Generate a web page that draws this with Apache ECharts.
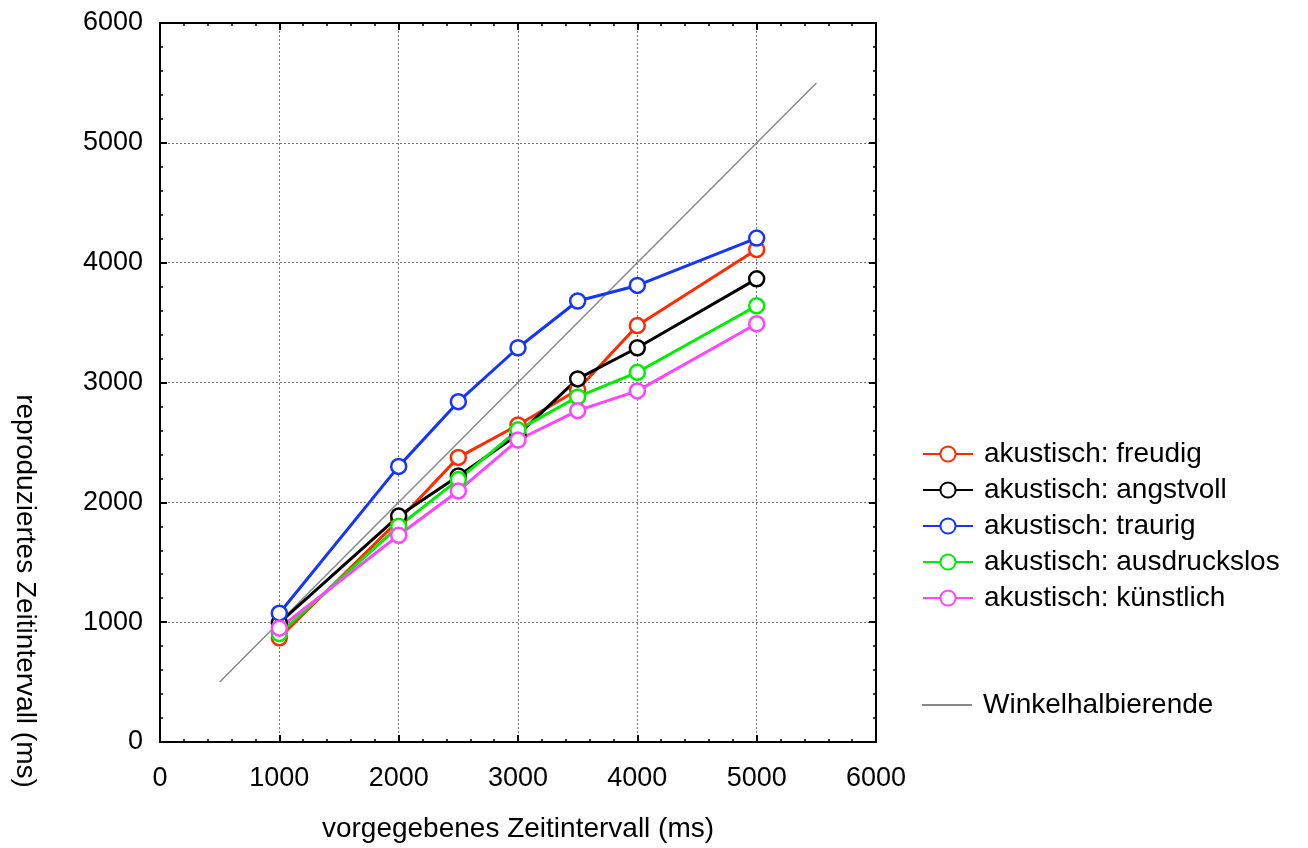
<!DOCTYPE html>
<html>
<head>
<meta charset="utf-8">
<script src="https://cdn.jsdelivr.net/npm/echarts@6/dist/echarts.min.js"></script>
<style>
  html, body { margin: 0; padding: 0; background: #fff; }
  #chart { width: 1308px; height: 848px; }
</style>
</head>
<body>
<div id="chart"></div>
<script>
// Vorgegebene Intervalle (ms)
const intervals = [1000, 2000, 2500, 3000, 3500, 4000, 5000];

// Mittlere reproduzierte Intervalle (ms) je Bedingung
const freudig      = [870, 1850, 2375, 2645, 2940, 3475, 4110];
const angstvoll    = [995, 1885, 2220, 2565, 3030, 3290, 3865];
const traurig      = [1075, 2300, 2840, 3290, 3680, 3810, 4205];
const ausdruckslos = [905, 1800, 2190, 2605, 2880, 3085, 3640];
const kuenstlich   = [950, 1725, 2095, 2520, 2765, 2930, 3490];

// Winkelhalbierende (y = x)
const diagonal = [[500, 500], [5500, 5500]];

const axisTicks = [0, 1000, 2000, 3000, 4000, 5000, 6000];

const seriesDefs = [
  { name: 'akustisch: freudig',      values: freudig,      color: '#ff2a00' },
  { name: 'akustisch: angstvoll',    values: angstvoll,    color: '#000000' },
  { name: 'akustisch: traurig',      values: traurig,      color: '#1435ff' },
  { name: 'akustisch: ausdruckslos', values: ausdruckslos, color: '#00ee00' },
  { name: 'akustisch: künstlich',    values: kuenstlich,   color: '#ff44ff' }
];

const FONT = '"Liberation Sans", Arial, sans-serif';
const FS = 27;

function pairs(vals) {
  return intervals.map((x, i) => [x, vals[i]]);
}

function axisBase(showLabels, position) {
  return {
    type: 'value',
    min: axisTicks[0],
    max: axisTicks[axisTicks.length - 1],
    interval: 1000,
    position: position,
    axisLine: { show: true, onZero: false, lineStyle: { color: '#000', width: 2 } },
    axisTick: { show: true, inside: true, length: 7, lineStyle: { color: '#000', width: 2 } },
    minorTick: { show: true, splitNumber: 5, length: 3, lineStyle: { color: '#000', width: 1.5 } },
    axisLabel: {
      show: showLabels,
      color: '#000',
      fontSize: FS,
      fontFamily: FONT,
      formatter: v => String(v)
    },
    splitLine: { show: false },
    minorSplitLine: { show: false }
  };
}

const xBottom = axisBase(true, 'bottom');
xBottom.axisLabel.margin = 23;
xBottom.splitLine = { show: true, lineStyle: { color: '#777', type: [2, 2], width: 1 } };
xBottom.name = 'vorgegebenes Zeitintervall (ms)';
xBottom.nameLocation = 'middle';
xBottom.nameGap = 73;
xBottom.nameTextStyle = { color: '#000', fontSize: 28, fontFamily: FONT };

const xTop = axisBase(false, 'top');

const yLeft = axisBase(true, 'left');
yLeft.axisLabel.margin = 17;
yLeft.splitLine = { show: true, lineStyle: { color: '#777', type: [2, 2], width: 1 } };

const yRight = axisBase(false, 'right');

const series = seriesDefs.map(d => ({
  name: d.name,
  type: 'line',
  xAxisIndex: 0,
  yAxisIndex: 0,
  data: pairs(d.values),
  symbol: 'circle',
  symbolSize: 15,
  showAllSymbol: true,
  lineStyle: { color: d.color, width: 3 },
  itemStyle: { color: '#fff', borderColor: d.color, borderWidth: 2.5 },
  emphasis: { disabled: true },
  z: 3
}));

series.unshift({
  name: 'Winkelhalbierende',
  type: 'line',
  xAxisIndex: 0,
  yAxisIndex: 0,
  data: diagonal,
  symbol: 'none',
  lineStyle: { color: '#888', width: 1.5 },
  itemStyle: { color: '#888' },
  emphasis: { disabled: true },
  z: 2
});

const legendText = { color: '#000', fontSize: 28, fontFamily: FONT, padding: [0, 0, 0, 6] };

const option = {
  backgroundColor: '#fff',
  animation: false,
  grid: { left: 160, right: 432, top: 23, bottom: 105, containLabel: false },
  xAxis: [xBottom, xTop],
  yAxis: [yLeft, yRight],
  legend: [
    {
      data: seriesDefs.map(d => d.name),
      orient: 'vertical',
      left: 917,
      top: 435,
      itemWidth: 50,
      itemHeight: 19,
      itemGap: 8,
      textStyle: legendText,
      selectedMode: false
    },
    {
      data: [{ name: 'Winkelhalbierende', icon: 'rect' }],
      orient: 'vertical',
      left: 917,
      top: 686,
      itemWidth: 50,
      itemHeight: 2,
      textStyle: legendText,
      selectedMode: false
    }
  ],
  graphic: [
    {
      type: 'text',
      x: 25,
      y: 591,
      rotation: -Math.PI / 2,
      style: {
        text: 'reproduziertes Zeitintervall (ms)',
        fill: '#000',
        fontSize: 28,
        fontFamily: FONT,
        align: 'center',
        verticalAlign: 'middle'
      }
    }
  ],
  series: series
};

const chart = echarts.init(document.getElementById('chart'), null, { renderer: 'canvas' });
chart.setOption(option);
</script>
</body>
</html>
